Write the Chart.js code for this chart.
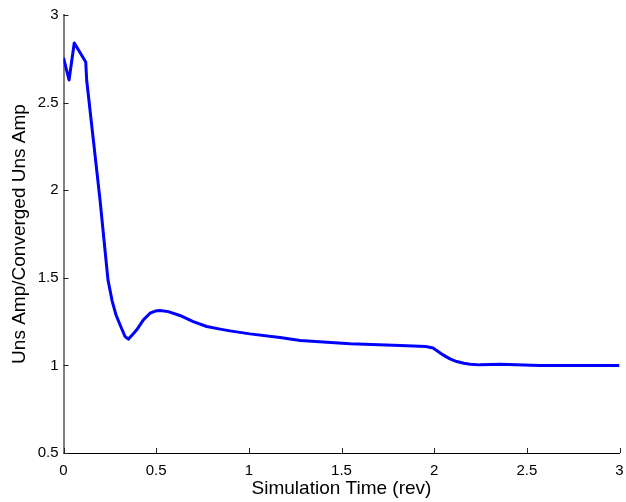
<!DOCTYPE html>
<html>
<head>
<meta charset="utf-8">
<script src="https://cdn.jsdelivr.net/npm/chart.js@4.4.0/dist/chart.umd.min.js"></script>
<style>
    html, body { margin: 0; padding: 0; background: #fff; }
    #chart { display: block; }
</style>
</head>
<body>
<canvas id="chart" width="626" height="502"></canvas>
<script>
// Values
const simTime = [0, 0.030, 0.058, 0.120, 0.125, 0.161, 0.197, 0.220, 0.240, 0.262,
    0.283, 0.305, 0.332, 0.350, 0.372, 0.395, 0.431, 0.467, 0.495, 0.521,
    0.565, 0.628, 0.700, 0.773, 0.845, 0.898, 1.006, 1.168, 1.278, 1.546,
    1.818, 1.955, 1.994, 2.048, 2.085, 2.122, 2.160, 2.194, 2.247, 2.355,
    2.571, 3.0];
const ampRatio = [2.755, 2.629, 2.840, 2.732, 2.629, 2.287, 1.945, 1.700, 1.488, 1.370,
    1.289, 1.232, 1.165, 1.150, 1.175, 1.203, 1.260, 1.298, 1.310, 1.313,
    1.307, 1.285, 1.250, 1.222, 1.207, 1.197, 1.180, 1.159, 1.142, 1.123,
    1.114, 1.108, 1.099, 1.060, 1.037, 1.022, 1.012, 1.007, 1.003, 1.006,
    1.000, 1.000];
const xTicks = [0, 0.5, 1, 1.5, 2, 2.5, 3];
const yTicks = [0.5, 1, 1.5, 2, 2.5, 3];

const FONT = "'Liberation Sans', Arial, Helvetica, sans-serif";

// MATLAB style ticks point into the plot area
const inwardTicks = {
    id: 'inwardTicks',
    afterDatasetsDraw(chart) {
        const { ctx, chartArea, scales } = chart;
        ctx.save();
        ctx.strokeStyle = '#222';
        ctx.lineWidth = 1;
        ctx.beginPath();
        xTicks.forEach(v => {
            const px = Math.round(scales.x.getPixelForValue(v)) + 0.5;
            ctx.moveTo(px, chartArea.bottom);
            ctx.lineTo(px, chartArea.bottom - 5);
        });
        yTicks.forEach(v => {
            const py = Math.round(scales.y.getPixelForValue(v)) + 0.5;
            ctx.moveTo(chartArea.left, py);
            ctx.lineTo(chartArea.left + 5, py);
        });
        ctx.stroke();
        ctx.restore();
    }
};

new Chart(document.getElementById('chart'), {
    type: 'line',
    data: {
        datasets: [{
            data: simTime.map((t, i) => ({ x: t, y: ampRatio[i] })),
            borderColor: '#0000ff',
            borderWidth: 3,
            pointRadius: 0,
            tension: 0,
            borderJoinStyle: 'round',
            fill: false
        }]
    },
    options: {
        responsive: false,
        animation: false,
        devicePixelRatio: 1,
        layout: { padding: { top: 15, right: 6.5, left: 0, bottom: 0 } },
        plugins: { legend: { display: false }, tooltip: { enabled: false } },
        scales: {
            x: {
                type: 'linear',
                min: 0,
                max: 3,
                afterBuildTicks: s => { s.ticks = xTicks.map(v => ({ value: v })); },
                afterFit: s => { s.height = 49; s.paddingLeft = 0; s.paddingRight = 0; },
                grid: { display: false, drawTicks: false },
                border: { display: true, color: '#000', width: 1 },
                ticks: {
                    color: '#000', padding: 9, maxRotation: 0,
                    font: { family: FONT, size: 15 },
                    callback: v => String(v)
                },
                title: {
                    display: true,
                    text: 'Simulation Time (rev)',
                    color: '#000',
                    font: { family: FONT, size: 19 },
                    padding: { top: 0, bottom: 2 }
                }
            },
            y: {
                type: 'linear',
                min: 0.5,
                max: 3,
                afterBuildTicks: s => { s.ticks = yTicks.map(v => ({ value: v })); },
                afterFit: s => { s.width = 63.5; s.paddingTop = 0; s.paddingBottom = 0; },
                grid: { display: false, drawTicks: false },
                border: { display: true, color: '#808080', width: 2 },
                ticks: {
                    color: '#000', padding: 5,
                    font: { family: FONT, size: 15 },
                    callback: v => String(v)
                },
                title: {
                    display: true,
                    text: 'Uns Amp/Converged Uns Amp',
                    color: '#000',
                    font: { family: FONT, size: 19 },
                    padding: { top: 8.5, bottom: 0 }
                }
            }
        }
    },
    plugins: [inwardTicks]
});
</script>
</body>
</html>
